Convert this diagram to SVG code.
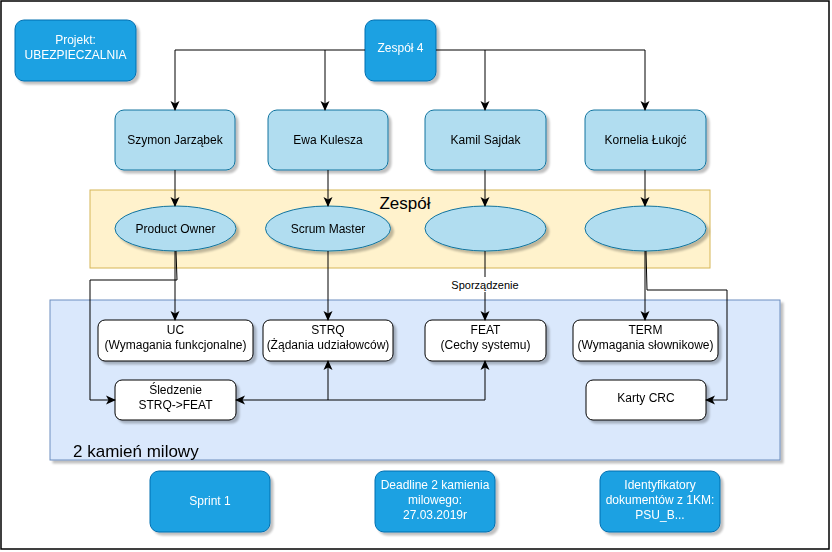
<svg xmlns="http://www.w3.org/2000/svg" width="832" height="552" viewBox="0 0 832 552">
<defs>
<filter id="sh" x="-10%" y="-10%" width="130%" height="140%">
<feGaussianBlur in="SourceAlpha" stdDeviation="0.8"/>
<feOffset dx="3" dy="3" result="o"/>
<feComponentTransfer><feFuncA type="linear" slope="0.25"/></feComponentTransfer>
<feMerge><feMergeNode/><feMergeNode in="SourceGraphic"/></feMerge>
</filter>
<marker id="arr" viewBox="0 0 10 10" refX="9" refY="5" markerWidth="10" markerHeight="10" markerUnits="userSpaceOnUse" orient="auto">
<path d="M0,0.5 L10,5 L0,9.5 L2.5,5 Z" fill="#000"/>
</marker>
</defs>
<style>
.dark{fill:#1BA1E2;stroke:#006EAF;stroke-width:1}
.light{fill:#B1DDF0;stroke:#10739E;stroke-width:1}
.white{fill:#fff;stroke:#000;stroke-width:1}
text{font-family:"Liberation Sans",Arial,sans-serif;font-size:12px;text-anchor:middle}
.wt{fill:#fff}
.bt{fill:#000}
.edge{fill:none;stroke:#000;stroke-width:1}
.arrow{marker-end:url(#arr)}
</style>
<rect x="0" y="0" width="832" height="552" fill="#fff"/>
<rect x="1" y="1" width="828" height="548" fill="none" stroke="#000" stroke-width="1.5"/>

<g id="container-zespol">
<rect x="90" y="190" width="620" height="78" fill="#FFF2CC" stroke="#D6B656"/>
<text x="405" y="209" style="font-size:17px">Zespół</text>
</g>
<g id="container-kamien" filter="url(#sh)">
<rect x="50" y="300" width="730" height="160" fill="#DAE8FC" stroke="#6C8EBF"/>
<text x="73" y="457" style="font-size:17px;text-anchor:start">2 kamień milowy</text>
</g>

<g id="projekt" filter="url(#sh)">
<rect class="dark" x="15" y="20" width="121" height="61" rx="9"/>
<text class="wt" x="75.5" y="44">Projekt:</text>
<text class="wt" x="75.5" y="59">UBEZPIECZALNIA</text>
</g>
<g id="zespol4" filter="url(#sh)">
<rect class="dark" x="365" y="20" width="71" height="61" rx="9"/>
<text class="wt" x="400.5" y="52">Zespół 4</text>
</g>

<g id="szymon" filter="url(#sh)">
<rect class="light" x="115" y="110" width="120" height="60" rx="9"/>
<text class="bt" x="175" y="144">Szymon Jarząbek</text>
</g>
<g id="ewa" filter="url(#sh)">
<rect class="light" x="268" y="110" width="120" height="60" rx="9"/>
<text class="bt" x="328" y="144">Ewa Kulesza</text>
</g>
<g id="kamil" filter="url(#sh)">
<rect class="light" x="425" y="110" width="121" height="60" rx="9"/>
<text class="bt" x="485.5" y="144">Kamil Sajdak</text>
</g>
<g id="kornelia" filter="url(#sh)">
<rect class="light" x="585" y="110" width="121" height="60" rx="9"/>
<text class="bt" x="645.5" y="144">Kornelia Łukojć</text>
</g>

<g id="product-owner" filter="url(#sh)">
<ellipse class="light" cx="175.5" cy="228.5" rx="60.5" ry="22.5"/>
<text class="bt" x="175.5" y="233">Product Owner</text>
</g>
<g id="scrum-master" filter="url(#sh)">
<ellipse class="light" cx="328" cy="228.5" rx="62.5" ry="22.5"/>
<text class="bt" x="328" y="233">Scrum Master</text>
</g>
<g id="rola3" filter="url(#sh)">
<ellipse class="light" cx="485.5" cy="228.5" rx="60.5" ry="22.5"/>
</g>
<g id="rola4" filter="url(#sh)">
<ellipse class="light" cx="645.5" cy="228.5" rx="60.5" ry="22.5"/>
</g>

<g id="uc" filter="url(#sh)">
<rect class="white" x="98" y="320" width="155" height="41" rx="7"/>
<text class="bt" x="175.5" y="334">UC</text>
<text class="bt" x="175.5" y="349">(Wymagania funkcjonalne)</text>
</g>
<g id="strq" filter="url(#sh)">
<rect class="white" x="263" y="320" width="130" height="41" rx="7"/>
<text class="bt" x="328" y="334">STRQ</text>
<text class="bt" x="328" y="349">(Żądania udziałowców)</text>
</g>
<g id="feat" filter="url(#sh)">
<rect class="white" x="425" y="320" width="121" height="41" rx="7"/>
<text class="bt" x="485.5" y="334">FEAT</text>
<text class="bt" x="485.5" y="349">(Cechy systemu)</text>
</g>
<g id="term" filter="url(#sh)">
<rect class="white" x="573" y="320" width="145" height="41" rx="7"/>
<text class="bt" x="645.5" y="334">TERM</text>
<text class="bt" x="645.5" y="349">(Wymagania słownikowe)</text>
</g>
<g id="sledzenie" filter="url(#sh)">
<rect class="white" x="115" y="380" width="121" height="40" rx="7"/>
<text class="bt" x="175.5" y="394">Śledzenie</text>
<text class="bt" x="175.5" y="409">STRQ-&gt;FEAT</text>
</g>
<g id="karty-crc" filter="url(#sh)">
<rect class="white" x="586" y="380" width="120" height="40" rx="7"/>
<text class="bt" x="646" y="402">Karty CRC</text>
</g>

<g id="sprint1" filter="url(#sh)">
<rect class="dark" x="150" y="471" width="120" height="61" rx="9"/>
<text class="wt" x="210" y="505">Sprint 1</text>
</g>
<g id="deadline" filter="url(#sh)">
<rect class="dark" x="375" y="471" width="120" height="61" rx="9"/>
<text class="wt" x="435" y="489">Deadline 2 kamienia</text>
<text class="wt" x="435" y="504">milowego:</text>
<text class="wt" x="435" y="519">27.03.2019r</text>
</g>
<g id="identyfikatory" filter="url(#sh)">
<rect class="dark" x="600" y="471" width="120" height="61" rx="9"/>
<text class="wt" x="660" y="489">Identyfikatory</text>
<text class="wt" x="660" y="504">dokumentów z 1KM:</text>
<text class="wt" x="660" y="519">PSU_B...</text>
</g>

<g id="connectors">
<path class="edge arrow" d="M365,50 L175,50 L175,110"/>
<path class="edge arrow" d="M325,50 L325,110"/>
<path class="edge arrow" d="M436,50 L485,50 L485,110"/>
<path class="edge arrow" d="M485,50 L645,50 L645,110"/>
<path class="edge arrow" d="M175,170 L175,206"/>
<path class="edge arrow" d="M328,170 L328,206"/>
<path class="edge arrow" d="M485,170 L485,206"/>
<path class="edge arrow" d="M645,170 L645,206"/>
<path class="edge arrow" d="M175,251 L175,320"/>
<path class="edge arrow" d="M176,251 L177,280 L90,280 L90,400 L115,400"/>
<path class="edge arrow" d="M328,251 L328,320"/>
<path class="edge arrow" d="M485,251 L485,320"/>
<path class="edge arrow" d="M645,251 L645,320"/>
<path class="edge arrow" d="M646,251 L647,290 L727,290 L727,400 L706,400"/>
<path class="edge arrow" d="M485,400 L236,400"/>
<path class="edge arrow" d="M485,400 L485,361"/>
<path class="edge arrow" d="M328,400 L328,361"/>
<rect x="449" y="277" width="72" height="15" fill="#fff"/>
<text class="bt" x="485" y="289" style="font-size:11px">Sporządzenie</text>
</g>
</svg>
